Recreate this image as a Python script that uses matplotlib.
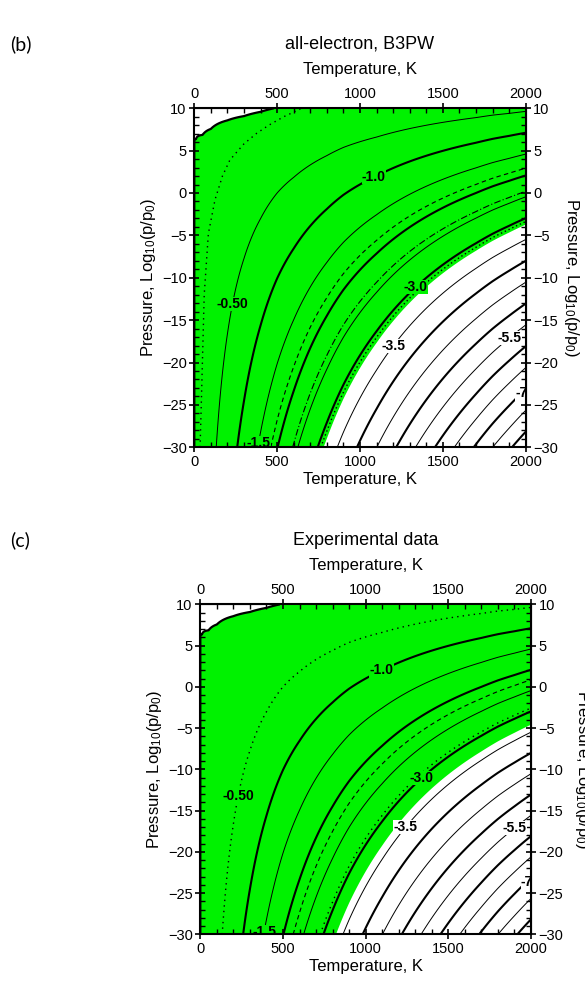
import numpy as np
import matplotlib.pyplot as plt
from matplotlib.ticker import MultipleLocator

plt.rcParams['font.family'] = ['Liberation Sans', 'DejaVu Sans']
plt.rcParams['mathtext.default'] = 'regular'
plt.rcParams['contour.negative_linestyle'] = 'solid'

# oxygen chemical potential at p0 (eV) against temperature (K)
temp_tab = [0, 10, 50, 100, 200, 300, 400, 500, 600, 700, 800, 900, 1000,
            1100, 1200, 1300, 1400, 1500, 1600, 1700, 1800, 1900, 2000]
dmu_p0 = [0.0, -0.0063, -0.034, -0.075, -0.17, -0.27, -0.38, -0.50, -0.61,
          -0.73, -0.85, -0.98, -1.10, -1.22, -1.35, -1.48, -1.61, -1.74,
          -1.87, -2.00, -2.14, -2.27, -2.41]

bold_levels = [-1.0, -2.0, -3.0, -4.0, -5.0, -6.0, -7.0, -8.0]
thin_levels = [-0.5, -1.5, -2.5, -3.5, -4.5, -5.5, -6.5, -7.5]

# green region limits (eV)
green_b = (-3.15, 0.0)
green_c = (-3.32, 0.0)

# extra phase lines (eV)
dashed_b = [-1.83]
dashdot_b = [-2.37]
dotted_b = [-3.08]
dashed_c = [-2.24]
dotted_c = [-0.5, -2.92]

# dotted curve in panel (b)
dot_T_b = [35, 43, 60, 85, 125, 170, 215, 300, 377, 450, 540, 640]
dot_p_b = [-30, -24.4, -12, -4.8, -0.8, 2.0, 3.9, 5.8, 7.05, 8.0, 9.0, 9.9]

label_fmt = {-0.5: '-0.50', -1.0: '-1.0', -1.5: '-1.5', -3.0: '-3.0',
             -3.5: '-3.5', -5.5: '-5.5', -7.0: '-7'}
label_pos_b = {-0.5: (235, -13.1), -1.0: (1081, 2.0), -1.5: (386, -29.5),
               -3.0: (1342, -11.2), -3.5: (1201, -18.0), -5.5: (1905, -17.1),
               -7.0: (1966, -23.5)}
label_pos_c = {-0.5: (230, -13.2), -1.0: (1097, 1.95), -1.5: (381, -29.7),
               -3.0: (1339, -11.1), -3.5: (1240, -17.0), -5.5: (1903, -17.2),
               -7.0: (1970, -23.5)}
green_col = '#00f200'

kB = 8.617e-5
T = np.linspace(0, 2000, 1001)
P = np.linspace(-30, 10, 401)
TT, PP = np.meshgrid(T, P)
MU = np.interp(TT, temp_tab, dmu_p0) + 0.5 * kB * TT * np.log(10) * PP

fig = plt.figure(figsize=(5.85, 9.83), dpi=100)


def panel(rect, tag, title, green, thin, extra, label_pos, rpad,
          dotted_curve=None):
    ax = fig.add_axes(rect)
    ax.contourf(TT, PP, MU, levels=list(green), colors=[green_col],
                antialiased=True)
    ax.contour(TT, PP, MU, levels=[green[1] - 1e-9], colors='k',
               linewidths=1.6, linestyles='solid')
    sets = {}
    for lev in bold_levels:
        sets[lev] = ax.contour(TT, PP, MU, levels=[lev], colors='k',
                               linewidths=1.5, linestyles='solid')
    for lev in thin:
        sets[lev] = ax.contour(TT, PP, MU, levels=[lev], colors='k',
                               linewidths=0.7, linestyles='solid')
    for levs, ls, lw in extra:
        for lev in levs:
            cs = ax.contour(TT, PP, MU, levels=[lev], colors='k', linewidths=lw,
                            linestyles=[ls])
            if lev in label_pos:
                sets[lev] = cs
    if dotted_curve is not None:
        ax.plot(dotted_curve[0], dotted_curve[1], color='k', lw=1.0,
                ls=(0, (1, 3)))
    with plt.rc_context({'font.weight': 'bold'}):
        for lev, pos in label_pos.items():
            texts = ax.clabel(sets[lev], [lev], manual=[pos],
                              fmt={lev: label_fmt[lev]}, inline=False,
                              fontsize=10)
            bg = green_col if lev >= green[0] else 'white'
            for t in texts:
                t.set_rotation(0)
                t.set_bbox(dict(facecolor=bg, edgecolor='none', pad=0.1))
                t.set_clip_on(True)

    ax.set_xlim(0, 2000)
    ax.set_ylim(-30, 10)
    for s in ax.spines.values():
        s.set_linewidth(1.5)
        s.set_zorder(5)
    ax.set_xticks([0, 500, 1000, 1500, 2000])
    ax.set_yticks(range(-30, 11, 5))
    ax.xaxis.set_minor_locator(MultipleLocator(100))
    ax.yaxis.set_minor_locator(MultipleLocator(1))
    ax.tick_params(which='major', direction='inout', length=7, width=1.2,
                   labelsize=10.5, top=True, right=True, labeltop=True,
                   labelright=True, pad=2)
    ax.tick_params(which='minor', direction='in', length=3.5, width=1,
                   top=True, right=True)
    ax.set_xlabel('Temperature, K', fontsize=12, labelpad=2)
    ax.set_ylabel('Pressure, Log$_{10}$(p/p$_0$)', fontsize=12, labelpad=3)
    top = ax.secondary_xaxis('top')
    top.set_xticks([])
    top.set_xlabel('Temperature, K', fontsize=12, labelpad=25)
    right = ax.secondary_yaxis('right')
    right.set_yticks([])
    right.set_ylabel('Pressure, Log$_{10}$(p/p$_0$)', fontsize=12,
                     rotation=270, labelpad=rpad)
    x0, y0, w, h = rect
    fig.text(0.018, y0 + h + 0.065, tag, fontsize=14, family='Lato',
             va='center')
    fig.text(x0 + w / 2, y0 + h + 0.065, title, fontsize=13, ha='center',
             va='center')
    return ax


panel([0.3321, 0.5450, 0.5665, 0.3449], '(b)', 'all-electron, B3PW', green_b,
      thin_levels,
      [(dashed_b, (0, (4, 3)), 0.8), (dashdot_b, (0, (6, 2, 1, 2)), 0.8),
       (dotted_b, (0, (1, 2)), 1.0)],
      label_pos_b, 40, dotted_curve=(dot_T_b, dot_p_b))
panel([0.3424, 0.0495, 0.5653, 0.3357], '(c)', 'Experimental data', green_c,
      thin_levels[1:],
      [(dashed_c, (0, (4, 3)), 0.8), (dotted_c, (0, (1, 3)), 1.0)],
      label_pos_c, 44)

fig.savefig('out.png', dpi=100)
